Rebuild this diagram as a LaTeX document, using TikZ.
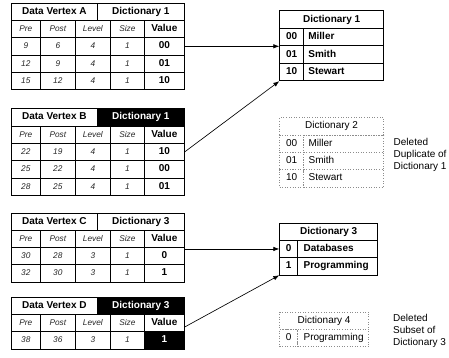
\documentclass[tikz,border=0pt]{standalone}
\usepackage{fontspec}
\setmainfont{Liberation Sans}
\usetikzlibrary{arrows.meta,calc}
\newcommand{\bfnt}{\fontsize{10}{11}\selectfont\bfseries}
\newcommand{\itfnt}{\fontsize{8.3}{9}\selectfont\itshape}
\newcommand{\rgfnt}{\fontsize{10}{12}\selectfont}
\tikzset{
 cellbase/.style={draw, line width=0.7pt, anchor=north west, inner sep=0pt, minimum height=17.3pt, text height=7pt, text depth=2pt},
 icell/.style={cellbase, font=\itfnt, text=black!85},
 bcell/.style={cellbase, font=\bfnt},
 blk/.style={fill=black, text=white},
 dcell/.style={draw=black!45, dotted, line width=0.6pt, anchor=north west, inner sep=0pt, minimum height=17.35pt, text height=7pt, text depth=2pt, font=\rgfnt},
 arr/.style={-{Latex[length=6pt,width=4.5pt]}, line width=0.65pt},
 note/.style={anchor=north west, inner sep=0pt, align=left, font=\rgfnt},
}
% table header: prefix, y, vertex, dict, dict style
\newcommand{\thead}[5]{%
 \node[bcell, minimum width=86pt] (#1hv) at (11,#2) {#3};
 \node[bcell, minimum width=87pt, #5] (#1hd) at (97,#2) {#4};}
% label row: prefix, y
\newcommand{\tlabels}[2]{%
 \node[icell, minimum width=29pt] (#1lp) at (11,#2) {Pre};
 \node[icell, minimum width=35pt] (#1lq) at (40,#2) {Post};
 \node[icell, minimum width=35pt] (#1ll) at (75,#2) {Level};
 \node[icell, minimum width=34pt] (#1ls) at (110,#2) {Size};
 \node[bcell, minimum width=40pt, fill=white] (#1lv) at (144,#2) {Value};}
% data row: prefix, y, pre, post, level, size, value, value style
\newcommand{\trow}[8]{%
 \node[icell, minimum width=29pt] (#1p) at (11,#2) {#3};
 \node[icell, minimum width=35pt] (#1q) at (40,#2) {#4};
 \node[icell, minimum width=35pt] (#1l) at (75,#2) {#5};
 \node[icell, minimum width=34pt] (#1s) at (110,#2) {#6};
 \node[bcell, minimum width=40pt, #8] (#1v) at (144,#2) {#7};}
\begin{document}
\begin{tikzpicture}[x=1pt,y=-1pt]
\useasboundingbox (0,0) rectangle (449,358);
% ---------- Table A ----------
\thead{A}{2.7}{Data Vertex A}{Dictionary 1}{}
\tlabels{A}{20}
\trow{Aa}{37.3}{9}{6}{4}{1}{00}{}
\trow{Ab}{54.6}{12}{9}{4}{1}{01}{}
\trow{Ac}{71.9}{15}{12}{4}{1}{10}{}
% ---------- Table B ----------
\thead{B}{108.3}{Data Vertex B}{Dictionary 1}{blk}
\tlabels{B}{125.6}
\trow{Ba}{142.9}{22}{19}{4}{1}{10}{}
\trow{Bb}{160.2}{25}{22}{4}{1}{00}{}
\trow{Bc}{177.5}{28}{25}{4}{1}{01}{}
% ---------- Table C ----------
\thead{C}{212.5}{Data Vertex C}{Dictionary 3}{}
\tlabels{C}{229.8}
\trow{Ca}{247.1}{30}{28}{3}{1}{0}{}
\trow{Cb}{264.4}{32}{30}{3}{1}{1}{}
% ---------- Table D ----------
\thead{D}{296.7}{Data Vertex D}{Dictionary 3}{blk}
\tlabels{D}{314}
\trow{Da}{331.3}{38}{36}{3}{1}{1}{blk}
% ---------- Dictionary 1 ----------
\node[bcell, minimum width=104pt, minimum height=17.5pt] (Ah) at (279.3,10.5) {Dictionary 1};
\node[bcell, minimum width=24pt, minimum height=17.5pt] (Aka) at (279.3,28) {00};
\node[bcell, text width=70.6pt, inner xsep=4.7pt, align=left, minimum height=17.5pt] (Ana) at (303.3,28) {Miller};
\node[bcell, minimum width=24pt, minimum height=17.5pt] (Akb) at (279.3,45.5) {01};
\node[bcell, text width=70.6pt, inner xsep=4.7pt, align=left, minimum height=17.5pt] (Anb) at (303.3,45.5) {Smith};
\node[bcell, minimum width=24pt, minimum height=17.5pt] (Akc) at (279.3,63) {10};
\node[bcell, text width=70.6pt, inner xsep=4.7pt, align=left, minimum height=17.5pt] (Anc) at (303.3,63) {Stewart};
% ---------- Dictionary 2 (deleted) ----------
\node[dcell, minimum width=104pt] (Bh) at (279.3,117.3) {Dictionary 2};
\node[dcell, minimum width=24pt] (Bka) at (279.3,134.65) {00};
\node[dcell, text width=70pt, inner xsep=5pt, align=left] (Bna) at (303.3,134.65) {Miller};
\node[dcell, minimum width=24pt] (Bkb) at (279.3,152) {01};
\node[dcell, text width=70pt, inner xsep=5pt, align=left] (Bnb) at (303.3,152) {Smith};
\node[dcell, minimum width=24pt] (Bkc) at (279.3,169.35) {10};
\node[dcell, text width=70pt, inner xsep=5pt, align=left] (Bnc) at (303.3,169.35) {Stewart};
\node[note] (Bnote) at (393.5,137.8) {Deleted\\Duplicate of\\Dictionary 1};
% ---------- Dictionary 3 ----------
\node[bcell, minimum width=98pt] (Ch) at (279.3,222.65) {Dictionary 3};
\node[bcell, minimum width=18pt] (Cka) at (279.3,239.95) {0};
\node[bcell, text width=68pt, inner xsep=6pt, align=left] (Cna) at (297.3,239.95) {Databases};
\node[bcell, minimum width=18pt] (Ckb) at (279.3,257.25) {1};
\node[bcell, text width=68pt, inner xsep=6pt, align=left] (Cnb) at (297.3,257.25) {Programming};
% ---------- Dictionary 4 (deleted) ----------
\node[dcell, minimum width=89pt] (Dh) at (279.3,311.7) {Dictionary 4};
\node[dcell, minimum width=18pt] (Dka) at (279.3,329.05) {0};
\node[dcell, text width=59pt, inner xsep=6pt, align=left] (Dna) at (297.3,329.05) {Programming};
\node[note] (Dnote) at (393,313.8) {Deleted\\Subset of\\Dictionary 3};
% ---------- connectors ----------
\draw[arr] (Aav.east) -- (Aav.east -| Ah.west);
\draw[arr] (Bav.east) -- (Akc.south west);
\draw[arr] (Cka.west -| Clv.east) -- (Cka.west);
\draw[arr] ([yshift=-4pt]Dlv.east) -- (Ckb.south west);
\end{tikzpicture}
\end{document}
